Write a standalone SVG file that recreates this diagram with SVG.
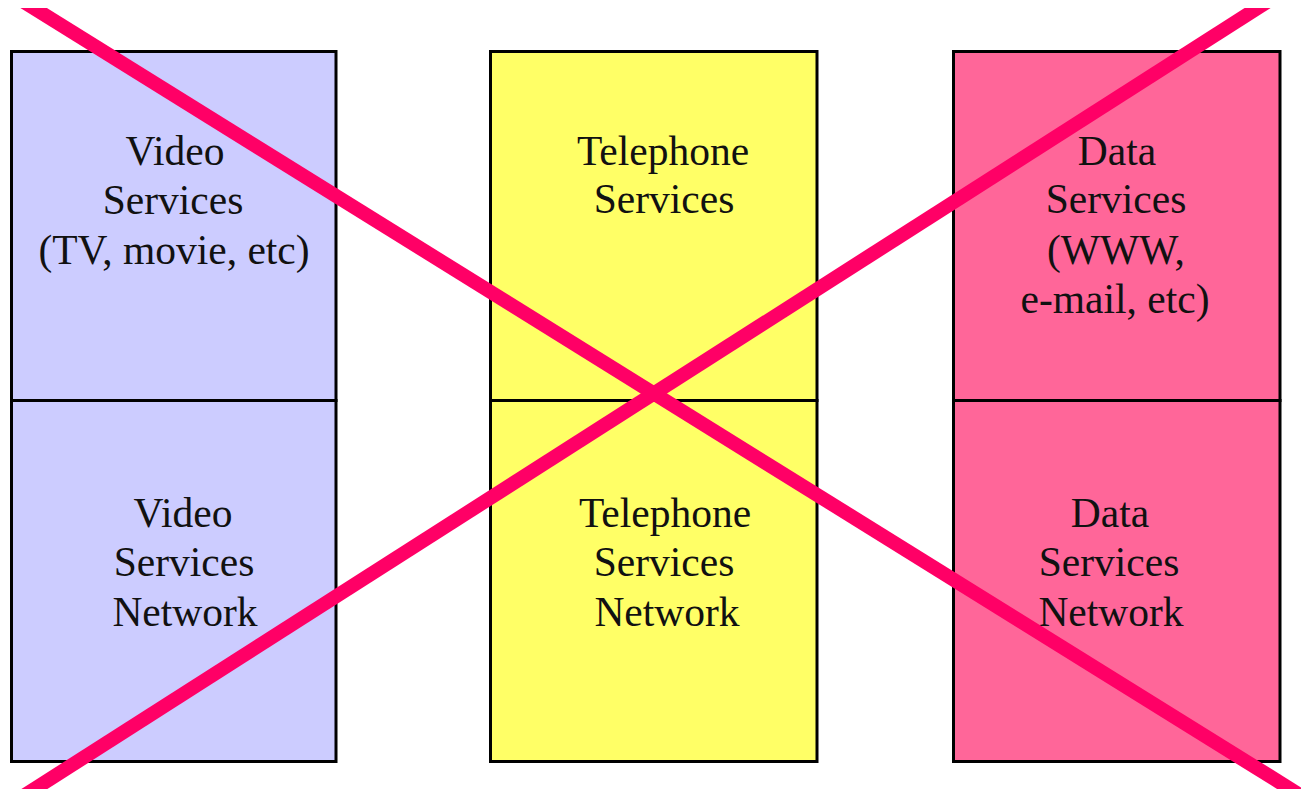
<svg xmlns="http://www.w3.org/2000/svg" width="1301" height="789" viewBox="0 0 1301 789">
  <defs>
    <style>
      .box { stroke: #000; stroke-width: 3; }
      .video { fill: #CCCCFF; }
      .phone { fill: #FFFF66; }
      .data { fill: #FF6699; }
      .lbl { font-family: "Liberation Serif", "Times New Roman", serif; font-size: 41.5px; fill: #111; text-anchor: middle; }
      .cross { stroke: #FF0066; stroke-width: 14; stroke-linecap: butt; fill: none; }
    </style>
    <clipPath id="page">
      <rect x="0" y="8" width="1301" height="781"/>
    </clipPath>
  </defs>
  <rect width="1301" height="789" fill="#fff"/>

  <!-- Video column -->
  <g id="video-services">
    <rect class="box video" x="11.5" y="51.5" width="324.5" height="349"/>
    <text class="lbl" x="175" y="165">Video</text>
    <text class="lbl" x="173" y="214">Services</text>
    <text class="lbl" x="174" y="264">(TV, movie, etc)</text>
  </g>
  <g id="video-network">
    <rect class="box video" x="11.5" y="400.5" width="324.5" height="361"/>
    <text class="lbl" x="183" y="527">Video</text>
    <text class="lbl" x="184" y="576">Services</text>
    <text class="lbl" x="185" y="626">Network</text>
  </g>

  <!-- Telephone column -->
  <g id="telephone-services">
    <rect class="box phone" x="490.5" y="51.5" width="326.5" height="349"/>
    <text class="lbl" x="663" y="165">Telephone</text>
    <text class="lbl" x="664" y="213">Services</text>
  </g>
  <g id="telephone-network">
    <rect class="box phone" x="490.5" y="400.5" width="326.5" height="361"/>
    <text class="lbl" x="665" y="527">Telephone</text>
    <text class="lbl" x="664" y="576">Services</text>
    <text class="lbl" x="667" y="626">Network</text>
  </g>

  <!-- Data column -->
  <g id="data-services">
    <rect class="box data" x="953.5" y="51.5" width="326.5" height="349"/>
    <text class="lbl" x="1117" y="165">Data</text>
    <text class="lbl" x="1116" y="213">Services</text>
    <text class="lbl" x="1116" y="264">(WWW,</text>
    <text class="lbl" x="1115" y="313">e-mail, etc)</text>
  </g>
  <g id="data-network">
    <rect class="box data" x="953.5" y="400.5" width="326.5" height="361"/>
    <text class="lbl" x="1110" y="527">Data</text>
    <text class="lbl" x="1109" y="576">Services</text>
    <text class="lbl" x="1111" y="626">Network</text>
  </g>

  <!-- Strike-through cross -->
  <g id="connectors" clip-path="url(#page)">
    <line class="cross" x1="24" y1="2" x2="1300" y2="795"/>
    <line class="cross" x1="1267" y1="2" x2="25" y2="795"/>
  </g>
</svg>
